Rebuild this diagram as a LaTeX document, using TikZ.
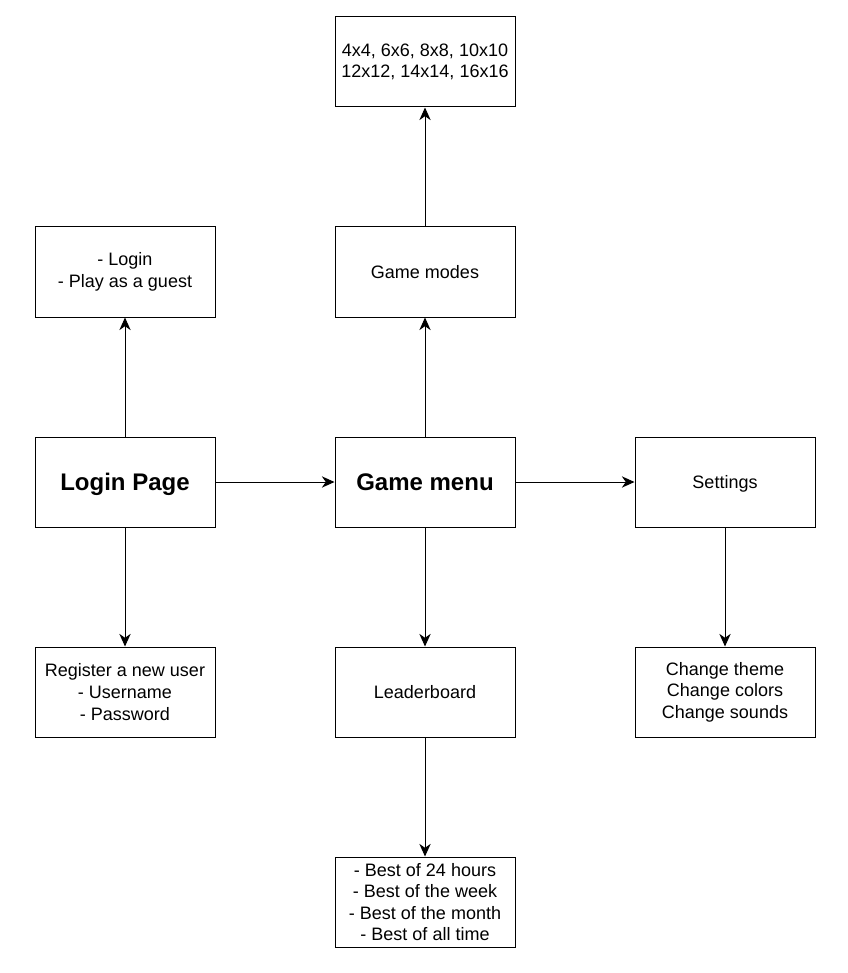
\documentclass[tikz,border=0pt]{standalone}
\usepackage{fontspec}
\setmainfont{Liberation Sans}
\usetikzlibrary{arrows.meta}

\begin{document}
\begin{tikzpicture}[x=0.75pt,y=-0.75pt]
    \tikzstyle{box}=[rectangle,draw=black,line width=0.75pt,fill=white,minimum width=135pt,minimum height=67.5pt,inner sep=2pt,align=center,font=\fontsize{13.5}{16.2}\selectfont]
    \tikzstyle{oneline}=[box,text height=12.2pt,text depth=2.9pt]
    \tikzstyle{mainbox}=[box,text height=16.3pt,text depth=3.8pt,font=\fontsize{18}{21.6}\selectfont\bfseries]
    \tikzstyle{link}=[line width=0.75pt,-{Stealth[length=9.5pt,width=8.5pt,inset=3pt]}]
    \useasboundingbox (0,0) rectangle (847,973);

    \node (sizes)[box] at (425,62) {4x4, 6x6, 8x8, 10x10\\12x12, 14x14, 16x16};
    \node (options)[box] at (125,272) {- Login\\- Play as a guest};
    \node (modes)[oneline] at (425,272) {Game modes};
    \node (login)[mainbox] at (125,482) {Login Page};
    \node (menu)[mainbox] at (425,482) {Game menu};
    \node (settings)[oneline] at (725,482) {Settings};
    \node (register)[box] at (125,692) {Register a new user\\- Username\\- Password};
    \node (board)[oneline] at (425,692) {Leaderboard};
    \node (change)[box] at (725,692) {Change theme\\Change colors\\Change sounds};
    \node (best)[box] at (425,902) {- Best of 24 hours\\- Best of the week\\- Best of the month\\- Best of all time};

    \draw[link] (login) -- (options);
    \draw[link] (login) -- (register);
    \draw[link] (login) -- (menu);
    \draw[link] (menu) -- (modes);
    \draw[link] (modes) -- (sizes);
    \draw[link] (menu) -- (settings);
    \draw[link] (menu) -- (board);
    \draw[link] (board) -- (best);
    \draw[link] (settings) -- (change);
\end{tikzpicture}
\end{document}
